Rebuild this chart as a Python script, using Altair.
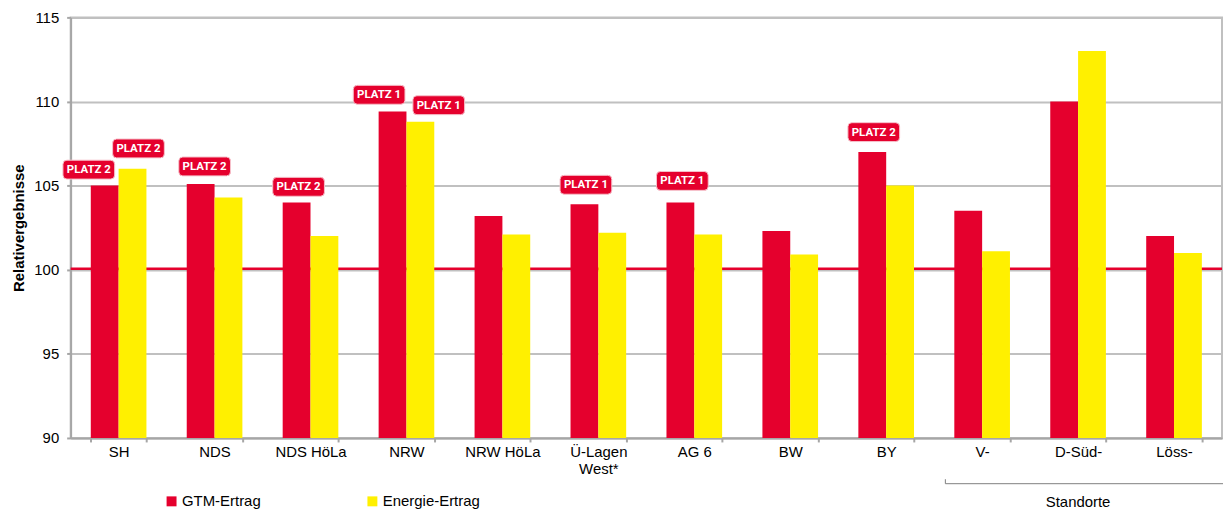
import altair as alt
import pandas as pd

# ---------------- data ----------------
categories = ["SH", "NDS", "NDS HöLa", "NRW", "NRW HöLa", "Ü-Lagen West*",
              "AG 6", "BW", "BY", "V-", "D-Süd-", "Löss-"]
series = ["GTM-Ertrag", "Energie-Ertrag"]
gtm_values = [105.0, 105.1, 104.0, 109.4, 103.2, 103.9, 104.0, 102.3, 107.0, 103.5, 110.0, 102.0]
energie_values = [106.0, 104.3, 102.0, 108.8, 102.1, 102.2, 102.1, 100.9, 105.0, 101.1, 113.0, 101.0]
y_ticks = [90, 95, 100, 105, 110, 115]
reference_value = 100

badge_categories = ["SH", "SH", "NDS", "NDS HöLa", "NRW", "NRW", "Ü-Lagen West*", "AG 6", "BY"]
badge_series = ["GTM-Ertrag", "Energie-Ertrag", "GTM-Ertrag", "GTM-Ertrag", "GTM-Ertrag",
                "Energie-Ertrag", "GTM-Ertrag", "GTM-Ertrag", "GTM-Ertrag"]
badge_texts = ["PLATZ 2", "PLATZ 2", "PLATZ 2", "PLATZ 2", "PLATZ 1", "PLATZ 1",
               "PLATZ 1", "PLATZ 1", "PLATZ 2"]
badge_levels = [105.95, 107.21, 106.14, 104.93, 110.40, 109.78, 105.05, 105.28, 108.18]

group_label = "Standorte"
group_first, group_mid, group_last = "V-", "D-Süd-", "Löss-"

# ---------------- styling (not data) ----------------
RED = "#E5002D"
YELLOW = "#FFF000"
GRID = "#C0C0C0"
FONT = "Liberation Sans"
badge_nudges = [-16, 6, 4, 2, -13.5, 18.5, 1.5, 2, 1.5]   # horizontal pixel nudges of badges
BADGE_W, BADGE_H, BADGE_R = 52, 19, 4

W, H = 1158, 423

rows = []
for c, g, e in zip(categories, gtm_values, energie_values):
    rows.append({"cat": c, "series": series[0], "value": g})
    rows.append({"cat": c, "series": series[1], "value": e})
bars_df = pd.DataFrame(rows)

badges_df = pd.DataFrame({
    "cat": badge_categories, "series": badge_series,
    "text": badge_texts, "level": badge_levels, "nudge": badge_nudges,
})

x_scale = alt.Scale(domain=categories, paddingInner=0.42, paddingOuter=0.21)
y_scale = alt.Scale(domain=[y_ticks[0], y_ticks[-1]], nice=False, zero=False)
xo_scale = alt.Scale(domain=series, paddingInner=0, paddingOuter=0)

x_enc = alt.X("cat:N", scale=x_scale, sort=categories, title=None,
              axis=alt.Axis(
                  labelAngle=0, labelFontSize=15, labelFont=FONT, labelColor="#000000",
                  labelPadding=3, labelLineHeight=17, tickBand="extent", tickSize=4,
                  tickColor="#A6A6A6", tickWidth=2, domainColor="#A6A6A6", domainWidth=2,
                  labelExpr="split(datum.label, ' West*').length > 1 ? ['Ü-Lagen', 'West*'] : datum.label",
                  grid=False, labelLimit=200))
xo_enc = alt.XOffset("series:N", scale=xo_scale, sort=series)

ref = alt.Chart(pd.DataFrame({"v": [reference_value]})).mark_rule(
    color=RED, strokeWidth=2.5, yOffset=-1
).encode(y=alt.Y("v:Q", scale=y_scale))

bars = alt.Chart(bars_df).mark_bar(stroke=None).encode(
    x=x_enc,
    xOffset=xo_enc,
    y=alt.Y("value:Q", scale=y_scale, title="Relativergebnisse",
            axis=alt.Axis(values=y_ticks, labelFontSize=15, labelFont=FONT, labelColor="#000000",
                          labelPadding=8, tickSize=4, tickColor="#A6A6A6", tickWidth=2,
                          domainColor="#A6A6A6", domainWidth=2, gridColor=GRID, gridWidth=2,
                          titleFont=FONT, titleFontSize=15, titleFontWeight="bold",
                          titleColor="#000000", titleX=-52, titleY=H / 2, titleAngle=-90,
                          titleAlign="center", titleBaseline="middle")),
    y2=alt.Y2(datum=y_ticks[0]),
    color=alt.Color("series:N", scale=alt.Scale(domain=series, range=[RED, YELLOW]),
                    legend=alt.Legend(title=None, orient="none", direction="horizontal",
                                      columns=2, legendX=94, legendY=479, padding=0,
                                      symbolType="square", symbolSize=100,
                                      symbolStrokeWidth=0, labelFontSize=15, labelFont=FONT,
                                      labelColor="#000000", labelOffset=3, columnPadding=104)),
)


def badge_path(nudge):
    half = BADGE_W / 2.0
    dx = nudge / half
    h = BADGE_H / 2.0 / half
    r = BADGE_R / half
    x0, x1 = -1 + dx, 1 + dx
    return (f"M {x0 + r} {-h} L {x1 - r} {-h} Q {x1} {-h} {x1} {-h + r} "
            f"L {x1} {h - r} Q {x1} {h} {x1 - r} {h} L {x0 + r} {h} "
            f"Q {x0} {h} {x0} {h - r} L {x0} {-h + r} Q {x0} {-h} {x0 + r} {-h} Z")


badge_layers = []
for nudge in sorted(set(badge_nudges)):
    sub = badges_df[badges_df["nudge"] == nudge]
    base = alt.Chart(sub).encode(
        x=alt.X("cat:N", scale=x_scale, sort=categories),
        xOffset=alt.XOffset("series:N", scale=xo_scale, sort=series),
        y=alt.Y("level:Q", scale=y_scale),
    )
    box = base.mark_point(shape=badge_path(nudge), size=BADGE_W ** 2, filled=True,
                          fill=RED, opacity=1, stroke="#F6C3CC", strokeWidth=1)
    txt = base.mark_text(font="Roboto", fontWeight="bold", fontSize=11.5, color="white",
                         align="center", baseline="middle", dx=nudge, dy=0.5).encode(
        text="text:N")
    badge_layers += [box, txt]

bracket = alt.Chart(pd.DataFrame({"a": [0]})).mark_rule(
    color="#7F7F7F", strokeWidth=1, xOffset=-9, x2Offset=25
).encode(
    x=alt.X(datum=group_first, bandPosition=0, scale=x_scale),
    x2=alt.X2(datum=group_last, bandPosition=1),
    y=alt.value(469),
)
bracket_tick = alt.Chart(pd.DataFrame({"a": [0]})).mark_rule(
    color="#7F7F7F", strokeWidth=1, xOffset=-9
).encode(
    x=alt.X(datum=group_first, bandPosition=0, scale=x_scale),
    y=alt.value(464.5),
    y2=alt.value(469),
)
group_text = alt.Chart(pd.DataFrame({"t": [group_label]})).mark_text(
    font=FONT, fontSize=15, color="#000000", align="center", baseline="middle"
).encode(
    x=alt.X(datum=group_mid, scale=x_scale),
    y=alt.value(487),
    text="t:N",
)

chart = alt.layer(ref, bars, *badge_layers, bracket, bracket_tick, group_text).properties(
    width=W, height=H,
    autosize=alt.AutoSizeParams(type="none"),
    padding={"left": 63, "top": 8, "right": 1, "bottom": 70},
).configure_view(stroke=GRID, strokeWidth=2)

chart.save("out.html", embed_options={"renderer": "svg", "actions": False})
